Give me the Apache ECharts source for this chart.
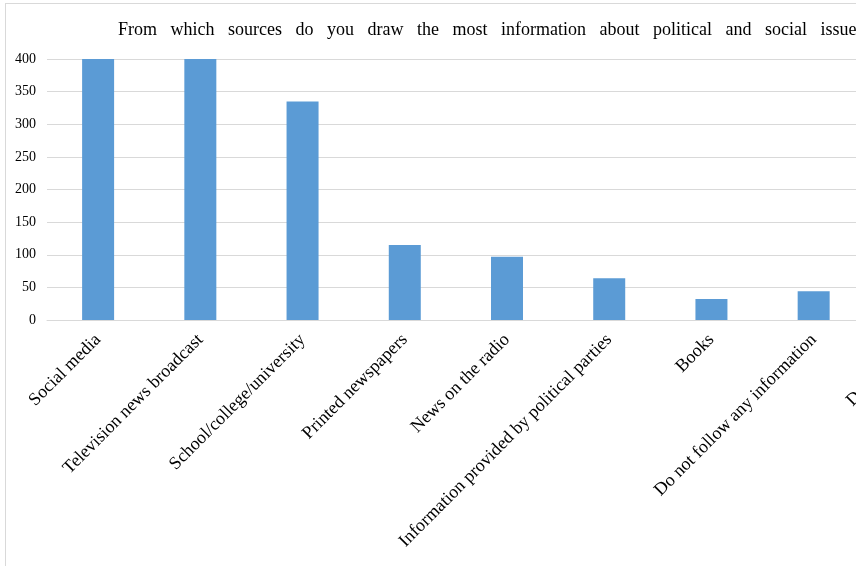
<!DOCTYPE html>
<html>
<head>
<meta charset="utf-8">
<script src="https://cdn.jsdelivr.net/npm/echarts@6/dist/echarts.min.js"></script>
<style>
  html, body { margin: 0; padding: 0; background: #fff; overflow: hidden; }
  #clip { position: absolute; left: 0; top: 0; width: 856px; height: 566px; overflow: hidden; }
  #frame { position: absolute; left: 5px; top: 3px; width: 900px; height: 600px;
           border-left: 1px solid #d9d9d9; border-top: 1px solid #d9d9d9; }
  #chart { position: absolute; left: 0; top: 0; width: 990px; height: 566px; }
</style>
</head>
<body>
<div id="clip">
  <div id="frame"></div>
  <div id="chart"></div>
</div>
<script>
// Survey answers: main sources of information on political and social issues
const chartTitle = 'From which sources do you draw the most information about political and social issues?';
const categories = [
  'Social media',
  'Television news broadcast',
  'School/college/university',
  'Printed newspapers',
  'News on the radio',
  'Information provided by political parties',
  'Books',
  'Do not follow any information',
  'Do not know'
];
const respondents = [400, 400, 335, 115, 97, 64, 32, 44, 15];
const yTicks = [0, 50, 100, 150, 200, 250, 300, 350, 400];

const chart = echarts.init(document.getElementById('chart'), null, { renderer: 'canvas' });
const serif = '"Liberation Serif", "Times New Roman", serif';

// the title is set with wide, justified-looking word gaps
const spacedTitle = chartTitle.split(' ').join('   ');

chart.setOption({
  animation: false,
  title: {
    text: spacedTitle,
    left: 113,
    top: 16,
    textStyle: { fontFamily: serif, fontSize: 18, fontWeight: 'normal', color: '#000' }
  },
  grid: { left: 47, top: 59, width: 920, height: 261 },
  xAxis: {
    type: 'category',
    data: categories,
    axisTick: { show: false },
    axisLine: { lineStyle: { color: '#d9d9d9', width: 1 } },
    axisLabel: {
      rotate: 45,
      interval: 0,
      margin: 17,
      fontFamily: serif,
      fontSize: 18,
      color: '#000'
    }
  },
  yAxis: {
    type: 'value',
    min: yTicks[0],
    max: yTicks[yTicks.length - 1],
    interval: yTicks[1] - yTicks[0],
    axisLine: { show: false },
    axisTick: { show: false },
    splitLine: { lineStyle: { color: '#d9d9d9', width: 1 } },
    axisLabel: { fontFamily: serif, fontSize: 14, color: '#000', margin: 11 }
  },
  series: [{
    type: 'bar',
    data: respondents,
    barWidth: 32,
    itemStyle: { color: '#5b9bd5' }
  }]
});
</script>
</body>
</html>
